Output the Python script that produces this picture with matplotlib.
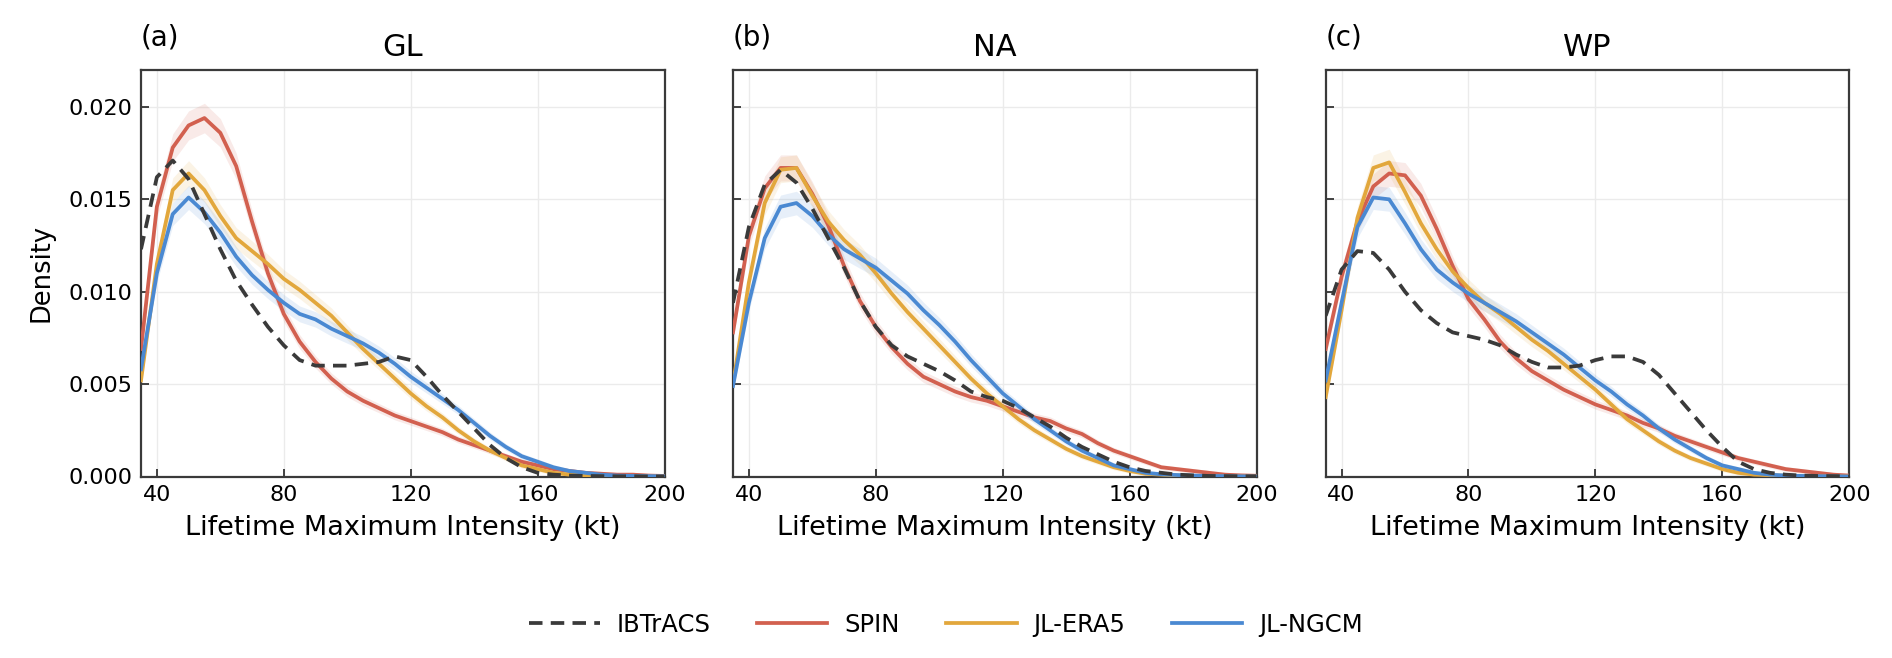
import numpy as np
import matplotlib
matplotlib.use("Agg")
import matplotlib.pyplot as plt

# ---------------- data ----------------
lmi = list(range(35, 205, 5))  # kt

regions = ["GL", "NA", "WP"]
panel_tags = ["(a)", "(b)", "(c)"]
series_names = ["IBTrACS", "SPIN", "JL-ERA5", "JL-NGCM"]

gl_ibtracs = [0.0123, 0.0162, 0.0171, 0.0161, 0.0142, 0.0123, 0.0106, 0.0093, 0.0081, 0.0071,
              0.0063, 0.0060, 0.0060, 0.0060, 0.0061, 0.0062, 0.0065, 0.0063, 0.0054, 0.0044,
              0.0035, 0.0026, 0.0017, 0.0010, 0.0005, 0.0002, 0.0001, 0.00005, 0.00003, 0.00002,
              0.00001, 0.00001, 0.0, 0.0]
gl_spin = [0.0069, 0.0146, 0.0178, 0.0190, 0.0194, 0.0186, 0.0168, 0.0138, 0.0110, 0.0088,
           0.0073, 0.0062, 0.0053, 0.0046, 0.0041, 0.0037, 0.0033, 0.0030, 0.0027, 0.0024,
           0.0020, 0.0017, 0.0014, 0.0011, 0.0008, 0.0006, 0.0004, 0.0003, 0.0002, 0.00015,
           0.0001, 0.0001, 0.00005, 0.00003]
gl_era5 = [0.0052, 0.0115, 0.0155, 0.0164, 0.0155, 0.0141, 0.0129, 0.0122, 0.0115, 0.0107,
           0.0101, 0.0094, 0.0087, 0.0078, 0.0069, 0.0061, 0.0053, 0.0045, 0.0038, 0.0032,
           0.0025, 0.0019, 0.0014, 0.0010, 0.0006, 0.0004, 0.0002, 0.0001, 0.00005, 0.00003,
           0.00002, 0.00001, 0.0, 0.0]
gl_ngcm = [0.0058, 0.0110, 0.0142, 0.0151, 0.0143, 0.0132, 0.0119, 0.0109, 0.0101, 0.0094,
           0.0088, 0.0085, 0.0080, 0.0076, 0.0072, 0.0067, 0.0061, 0.0054, 0.0048, 0.0042,
           0.0036, 0.0029, 0.0022, 0.0016, 0.0011, 0.0008, 0.0005, 0.0003, 0.0002, 0.0001,
           0.00005, 0.00003, 0.00002, 0.00001]

na_ibtracs = [0.0094, 0.0135, 0.0158, 0.0166, 0.0159, 0.0145, 0.0129, 0.0113, 0.0095, 0.0081,
              0.0071, 0.0065, 0.0061, 0.0057, 0.0052, 0.0046, 0.0043, 0.0041, 0.0037, 0.0032,
              0.0027, 0.0021, 0.0016, 0.0012, 0.0008, 0.0005, 0.0003, 0.0002, 0.0001, 0.00006,
              0.00003, 0.00002, 0.00001, 0.00001]
na_spin = [0.0078, 0.0130, 0.0156, 0.0167, 0.0167, 0.0153, 0.0136, 0.0114, 0.0095, 0.0081,
           0.0070, 0.0061, 0.0054, 0.0050, 0.0046, 0.0043, 0.0041, 0.0038, 0.0035, 0.0032,
           0.0030, 0.0026, 0.0023, 0.0018, 0.0014, 0.0011, 0.0008, 0.0005, 0.0004, 0.0003,
           0.0002, 0.0001, 0.00006, 0.00004]
na_era5 = [0.0050, 0.0105, 0.0148, 0.0166, 0.0167, 0.0152, 0.0138, 0.0128, 0.0120, 0.0110,
           0.0099, 0.0089, 0.0080, 0.0071, 0.0062, 0.0053, 0.0045, 0.0038, 0.0031, 0.0025,
           0.0020, 0.0015, 0.0011, 0.0008, 0.0005, 0.0003, 0.00015, 0.0001, 0.00005, 0.00003,
           0.00002, 0.00001, 0.0, 0.0]
na_ngcm = [0.0049, 0.0094, 0.0129, 0.0146, 0.0148, 0.0141, 0.0131, 0.0123, 0.0118, 0.0113,
           0.0106, 0.0099, 0.0090, 0.0082, 0.0073, 0.0063, 0.0054, 0.0045, 0.0038, 0.0031,
           0.0025, 0.0019, 0.0014, 0.0010, 0.0006, 0.0004, 0.0002, 0.00012, 0.00008, 0.00005,
           0.00003, 0.00002, 0.00001, 0.0]

wp_ibtracs = [0.0087, 0.0112, 0.0122, 0.0121, 0.0112, 0.0100, 0.0090, 0.0083, 0.0078, 0.0076,
              0.0074, 0.0071, 0.0066, 0.0062, 0.0059, 0.0059, 0.0060, 0.0063, 0.0065, 0.0065,
              0.0062, 0.0055, 0.0045, 0.0035, 0.0025, 0.0016, 0.0008, 0.0004, 0.0002, 0.0001,
              0.00005, 0.00003, 0.00002, 0.00001]
wp_spin = [0.0069, 0.0108, 0.0138, 0.0157, 0.0164, 0.0163, 0.0152, 0.0134, 0.0114, 0.0096,
           0.0085, 0.0073, 0.0064, 0.0057, 0.0052, 0.0047, 0.0043, 0.0039, 0.0036, 0.0033,
           0.0029, 0.0026, 0.0022, 0.0019, 0.0016, 0.0013, 0.0010, 0.0008, 0.0006, 0.0004,
           0.0003, 0.0002, 0.0001, 0.00005]
wp_era5 = [0.0043, 0.0090, 0.0140, 0.0167, 0.0170, 0.0154, 0.0137, 0.0123, 0.0111, 0.0102,
           0.0094, 0.0088, 0.0081, 0.0074, 0.0068, 0.0061, 0.0054, 0.0047, 0.0039, 0.0031,
           0.0025, 0.0019, 0.0014, 0.0010, 0.0007, 0.0004, 0.0002, 0.0001, 0.00007, 0.00004,
           0.00002, 0.00001, 0.0, 0.0]
wp_ngcm = [0.0052, 0.0094, 0.0135, 0.0151, 0.0150, 0.0137, 0.0123, 0.0112, 0.0105, 0.0099,
           0.0094, 0.0089, 0.0084, 0.0078, 0.0072, 0.0066, 0.0059, 0.0052, 0.0046, 0.0039,
           0.0033, 0.0026, 0.0020, 0.0015, 0.0010, 0.0006, 0.0004, 0.0002, 0.0001, 0.00005,
           0.00003, 0.00002, 0.00001, 0.0]

panel_data = {
    "GL": [gl_ibtracs, gl_spin, gl_era5, gl_ngcm],
    "NA": [na_ibtracs, na_spin, na_era5, na_ngcm],
    "WP": [wp_ibtracs, wp_spin, wp_era5, wp_ngcm],
}

x_ticks = [40, 80, 120, 160, 200]
y_ticks = [0.000, 0.005, 0.010, 0.015, 0.020]

# ---------------- style ----------------
colors = ["#3a3a3a", "#d2604f", "#e2a73c", "#4a89d2"]
band_rel = 0.035  # relative half-width of the light confidence band on model curves

plt.rcParams["font.family"] = ["DejaVu Sans"]

W, H = 1892, 658
fig = plt.figure(figsize=(W / 100, H / 100), dpi=100)

lefts = [141, 733, 1325.7]
ax_w = 523.5
top_px, bot_px = 70, 476.5

axes = []
for i, reg in enumerate(regions):
    ax = fig.add_axes([lefts[i] / W, 1 - bot_px / H, ax_w / W, (bot_px - top_px) / H])
    axes.append(ax)
    x = np.array(lmi, dtype=float)
    handles = []
    for j, name in enumerate(series_names):
        y = np.array(panel_data[reg][j])
        if j > 0:
            ax.fill_between(x, y * (1 - band_rel) - 0.00012, y * (1 + band_rel) + 0.00012,
                            color=colors[j], alpha=0.13, lw=0, zorder=2)
        if j == 0:
            h, = ax.plot(x, y, ls=(0, (3.6, 2.2)), color=colors[j], lw=2.7, zorder=4,
                         label=name, dash_capstyle="butt", solid_joinstyle="round")
        else:
            h, = ax.plot(x, y, ls="-", color=colors[j], lw=2.7, zorder=3, label=name,
                         solid_joinstyle="round")
        handles.append(h)
    ax.set_xlim(35, 200)
    ax.set_ylim(0, 0.022)
    ax.set_xticks(x_ticks)
    ax.set_yticks(y_ticks)
    ax.grid(True, color="#ebebeb", lw=1.0, zorder=0)
    ax.set_axisbelow(True)
    ax.tick_params(direction="in", length=6, width=1.3, labelsize=16, colors="#333333",
                   labelcolor="black", pad=6)
    for s in ax.spines.values():
        s.set_color("#3a3a3a")
        s.set_linewidth(1.6)
    ax.set_xlabel("Lifetime Maximum Intensity (kt)", fontsize=19.5, labelpad=7)
    ax.set_title(reg, fontsize=22, pad=10)
    ax.text(0.0, 1.0615, panel_tags[i], transform=ax.transAxes, ha="left", va="baseline",
            fontsize=20)
    if i == 0:
        ax.set_ylabel("Density", fontsize=18.5, labelpad=10)
        ax.set_yticklabels([f"{v:.3f}" for v in y_ticks])
    else:
        ax.set_yticklabels([])

fig.legend(handles, series_names, loc="center", bbox_to_anchor=(0.5, 1 - 625 / H), ncol=4,
           frameon=False, fontsize=17.5, handlelength=2.9, columnspacing=1.9, handletextpad=0.7)

fig.savefig("out.png", dpi=100)
